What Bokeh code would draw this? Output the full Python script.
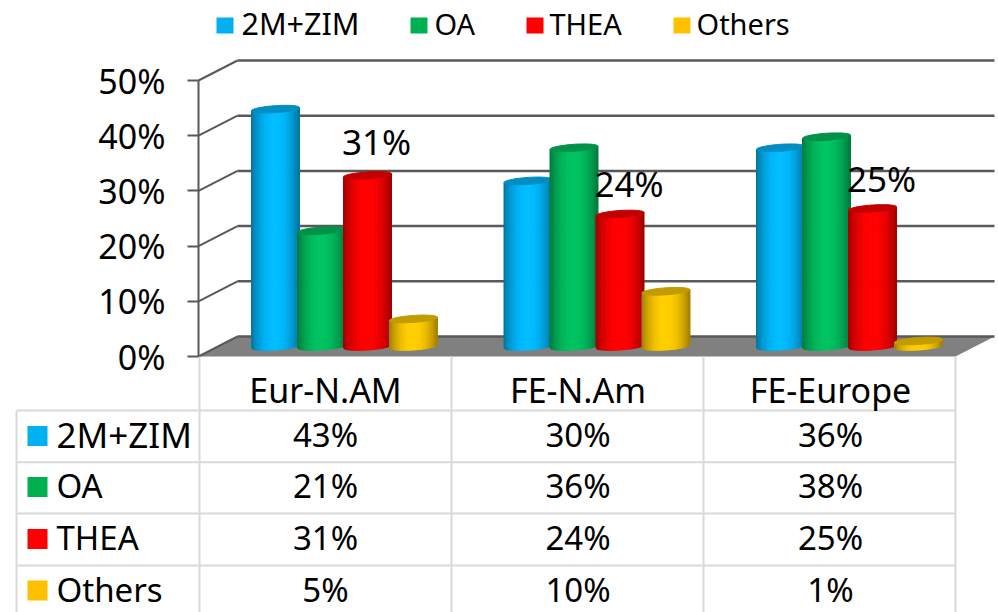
from math import pi, cos, sin, sqrt
from bokeh.plotting import figure
from bokeh.models import LinearAxis, FixedTicker, PrintfTickFormatter, Range1d
from bokeh.core.properties import value
from bokeh.embed import file_html
from bokeh.resources import INLINE

categories = ["Eur-N.AM", "FE-N.Am", "FE-Europe"]
series = ["2M+ZIM", "OA", "THEA", "Others"]
v_2m = [43, 30, 36]
v_oa = [21, 36, 38]
v_thea = [31, 24, 25]
v_others = [5, 10, 1]
ticks = [0, 10, 20, 30, 40, 50]
key_colors = ["#00B0F0", "#00B050", "#FF0000", "#FFC000"]
mid_colors = [(0, 186, 255), (0, 192, 96), (255, 0, 0), (255, 204, 0)]
all_values = [v_2m, v_oa, v_thea, v_others]

W, H = 998, 612
PX = 252.5    # px per category
PY = 5.52     # px per percentage point
X0 = 325      # page x of category 0
Y0 = 356      # page y of 0%
dx = lambda px: px / PX
dy = lambda px: px / PY
fx = lambda page: (page - X0) / PX
fy = lambda page: (Y0 - page) / PY

p = figure(width=W, height=H, output_backend="svg", toolbar_location=None,
           x_range=Range1d(fx(0), fx(W)), y_range=Range1d(fy(H), fy(0)),
           x_axis_type=None, y_axis_type=None, min_border=0,
           outline_line_color=None, background_fill_color="white")
p.grid.visible = False

FONT = value("Noto Sans")
GRID = "#595959"
TABLE = "#D9D9D9"
DEPTH_X, DEPTH_Y = dx(39), 20 / PY

# back wall, side wall and floor
left, right = fx(198), fx(955)
p.patch([left, left + DEPTH_X, right + DEPTH_X, right], [0, DEPTH_Y, DEPTH_Y, 0],
        fill_color="#808080", line_color=None)
p.segment([left + DEPTH_X] * 6, [t + DEPTH_Y for t in ticks],
          [right + DEPTH_X] * 6, [t + DEPTH_Y for t in ticks],
          line_color=GRID, line_width=2.5)
p.segment([left] * 6, ticks, [left + DEPTH_X] * 6, [t + DEPTH_Y for t in ticks],
          line_color=GRID, line_width=2)

axis = LinearAxis(fixed_location=left, ticker=FixedTicker(ticks=ticks), bounds=(0, 50),
                  formatter=PrintfTickFormatter(format="%d%%"),
                  axis_line_color=GRID, axis_line_width=2,
                  major_tick_line_color=GRID, major_tick_line_width=2,
                  major_tick_in=0, major_tick_out=11, minor_tick_line_color=None,
                  major_label_standoff=22, major_label_text_font="Noto Sans",
                  major_label_text_font_size="34px", major_label_text_color="black")
p.add_layout(axis, "left")

# cylinders
BAR_HALF = 24
STEP = 46.0
ELL_B = 3.5
TILT = 1.6
N = 28


def shade(rgb, f):
    return "#%02X%02X%02X" % tuple(max(0, min(255, round(c * f))) for c in rgb)


def profile(t):
    return 0.6 + 0.42 * sin(pi * t) ** 0.75


def edge(xc, u, y):
    return xc + dx(BAR_HALF) * u, y - dy(ELL_B) * sqrt(max(0, 1 - u * u)) + dy(TILT) * u


xs, ys, cols = [], [], []
base = DEPTH_Y / 2
for g in range(len(categories)):
    for s in range(4):
        val = all_values[s][g]
        xc = g + fx(275) + dx(STEP) * s
        top = val + base
        for k in range(N):
            u0 = -1 + 2 * k / N
            u1 = -1 + 2 * (k + 1) / N
            a = edge(xc, u0, base)
            b = edge(xc, u1, base)
            c = edge(xc, u1, top)
            d = edge(xc, u0, top)
            xs.append([a[0], b[0], c[0], d[0]])
            ys.append([a[1], b[1], c[1], d[1]])
            cols.append(shade(mid_colors[s], profile((k + 0.5) / N)))
        cx, cy = [], []
        for j in range(36):
            ang = 2 * pi * j / 36
            cu = cos(ang)
            cx.append(xc + dx(BAR_HALF) * cu)
            cy.append(top + dy(ELL_B) * sin(ang) + dy(TILT) * cu)
        xs.append(cx)
        ys.append(cy)
        cols.append(shade(mid_colors[s], 0.76))
p.patches(xs, ys, fill_color=cols, line_color=cols, line_width=1)

# data labels for THEA
label_lift = [34, 31, 30]
p.text([g + fx(275) + dx(STEP) * 2 + dx(9) for g in range(3)],
       [t + base + dy(l) for t, l in zip(v_thea, label_lift)],
       text=[f"{t}%" for t in v_thea], text_font=FONT, text_font_size="35px",
       text_align="center", text_baseline="middle", text_color="black")

# data table
row_y = [fy(y) for y in (410, 461.7, 513, 565)]
p.segment([fx(16)] * 4, row_y, [fx(955)] * 4, row_y, line_color=TABLE, line_width=2)
col_x = [fx(199), fx(451), fx(703), fx(955)]
p.segment(col_x, [0] * 4, col_x, [fy(H)] * 4, line_color=TABLE, line_width=2)
p.segment([fx(16)], [row_y[0]], [fx(16)], [fy(H)], line_color=TABLE, line_width=2)

TEXT_UP = dy(1.5)
p.text(list(range(3)), [fy(389.5)] * 3, text=categories, text_font=FONT,
       text_font_size="34px", text_align="center", text_baseline="middle",
       text_color="black")
row_c = [fy(y) for y in (435.5, 486.5, 538.5, 590)]
for s, vals in enumerate(all_values):
    p.text(list(range(3)), [row_c[s] + TEXT_UP] * 3, text=[f"{v}%" for v in vals],
           text_font=FONT, text_font_size="33px", text_align="center",
           text_baseline="middle", text_color="black")
p.quad(left=[fx(27)] * 4, right=[fx(47)] * 4,
       top=[c + dy(10) for c in row_c], bottom=[c - dy(10) for c in row_c],
       fill_color=key_colors, line_color=None)
table_sizes = ["35px", "33px", "33px", "33px"]
for s, name in enumerate(series):
    p.text([fx(56)], [row_c[s] + TEXT_UP], text=[name], text_font=FONT,
           text_font_size=table_sizes[s], text_align="left", text_baseline="middle",
           text_color="black")

# legend
leg_x = [216, 410, 526, 673]
leg_t = [241, 434, 549, 696]
leg_sizes = ["30.5px", "29px", "29px", "29px"]
p.quad(left=[fx(x) for x in leg_x], right=[fx(x + 17) for x in leg_x],
       top=[fy(17)] * 4, bottom=[fy(33)] * 4, fill_color=key_colors, line_color=None)
for s, name in enumerate(series):
    p.text([fx(leg_t[s])], [fy(22.5)], text=[name], text_font=FONT,
           text_font_size=leg_sizes[s], text_align="left", text_baseline="middle",
           text_color="black")

open("out.html", "w").write(file_html(p, INLINE))
